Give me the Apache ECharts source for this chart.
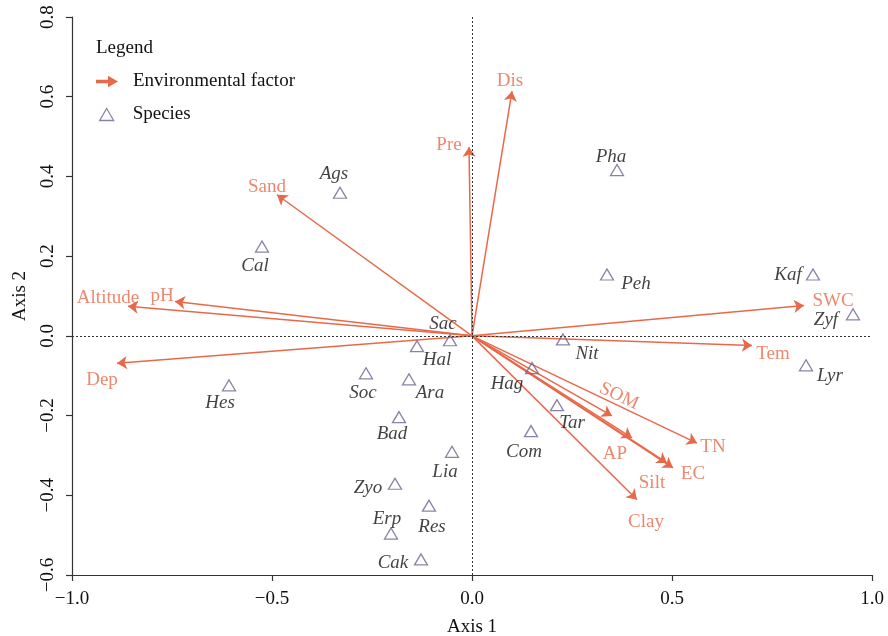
<!DOCTYPE html>
<html>
<head>
<meta charset="utf-8">
<script src="https://cdn.jsdelivr.net/npm/echarts@6/dist/echarts.min.js"></script>
<style>html,body{margin:0;padding:0;background:#fff}#c{width:888px;height:636px}</style>
</head>
<body>
<div id="c"></div>
<script>
// Environmental factors (arrow tips)
const envNames = ['Dis','Pre','Sand','pH','Altitude','Dep','SWC','Tem','SOM','AP','TN','EC','Silt','Clay'];
const envX = [0.10,-0.0075,-0.4875,-0.7425,-0.86,-0.8875,0.83,0.70,0.35,0.40,0.5625,0.5025,0.4875,0.4125];
const envY = [0.614,0.474,0.354,0.086,0.074,-0.069,0.076,-0.024,-0.201,-0.256,-0.269,-0.331,-0.319,-0.411];

// Species scores
const speciesNames = ['Ags','Pha','Cal','Peh','Kaf','Zyf','Lyr','Sac','Hal','Nit','Soc','Ara','Hag','Tar','Bad','Com','Lia','Zyo','Res','Erp','Cak','Hes'];
const speciesX = [-0.33,0.3625,-0.525,0.3375,0.8525,0.9525,0.835,-0.055,-0.1375,0.2275,-0.265,-0.1575,0.15,0.2125,-0.1825,0.1475,-0.05,-0.1925,-0.1075,-0.2025,-0.1275,-0.6075];
const speciesY = [0.359,0.416,0.224,0.154,0.154,0.054,-0.074,-0.011,-0.026,-0.009,-0.094,-0.109,-0.081,-0.174,-0.204,-0.239,-0.291,-0.371,-0.426,-0.496,-0.561,-0.124];

// Axis ticks
const xTicks = [-1.0,-0.5,0.0,0.5,1.0];
const yTicks = [-0.6,-0.4,-0.2,0.0,0.2,0.4,0.6,0.8];

// Label placement (pixel offsets from the point), kept separate from data
const envLabelLayout = {
  Dis:{o:[-2,-13]}, Pre:{o:[-20,-5]}, Sand:{o:[-10,-11]}, pH:{o:[-13,-9]},
  Altitude:{o:[-20,-11]}, Dep:{o:[-15,14]}, SWC:{o:[29,-8]}, Tem:{o:[21,6]},
  SOM:{o:[-2,-24], r:-25}, AP:{o:[-17,13]}, TN:{o:[16,1]}, EC:{o:[20,3]},
  Silt:{o:[-15,17]}, Clay:{o:[9,19]}
};
const spLabelLayout = {
  Ags:[-6,-22], Pha:[-6,-16], Cal:[-7,16], Peh:[29,7], Kaf:[-25,-2], Zyf:[-27,3],
  Lyr:[24,8], Sac:[-7,-19], Hal:[20,11], Nit:[24,12], Soc:[-3,17], Ara:[21,11],
  Hag:[-25,13], Tar:[15,15], Bad:[-7,14], Com:[-7,18], Lia:[-7,17], Zyo:[-27,1],
  Res:[3,18], Erp:[-4,-18], Cak:[-28,1], Hes:[-9,15]
};
const LABEL_DY = 3;

const ENV = '#E8694A';
const SP = '#6E6491';
const FONT = '"Liberation Serif", "DejaVu Serif", serif';
const fmt = v => (v < 0 ? '\u2212' : '') + Math.abs(v).toFixed(1);

const chart = echarts.init(document.getElementById('c'), null, {renderer: 'canvas'});

const arrowData = envNames.map((n, i) => ({name: n, coords: [[0, 0], [envX[i], envY[i]]]}));
const envLabelData = envNames.map((n, i) => ({
  name: n, value: [envX[i], envY[i]],
  label: {offset: [envLabelLayout[n].o[0], envLabelLayout[n].o[1] + LABEL_DY], rotate: envLabelLayout[n].r || 0}
}));
const spData = speciesNames.map((n, i) => ({
  name: n, value: [speciesX[i], speciesY[i]],
  label: {offset: [spLabelLayout[n][0], spLabelLayout[n][1] + LABEL_DY]}
}));

chart.setOption({
  animation: false,
  backgroundColor: '#fff',
  title: {
    text: 'Legend', left: 96, top: 39, padding: 0,
    textStyle: {fontFamily: FONT, fontSize: 19, fontWeight: 'normal', color: '#111'}
  },
  legend: [
    {
      left: 96, top: 72, padding: 0, orient: 'vertical',
      itemWidth: 19, itemHeight: 8,
      data: [{name: 'Environmental factor', icon: 'path://M0,3.3 L12,3.3 L12,0 L19,4 L12,8 L12,4.7 L0,4.7 Z', itemStyle: {color: ENV}}],
      textStyle: {fontFamily: FONT, fontSize: 19, color: '#111', padding: [0, 0, 0, 12]},
      selectedMode: false
    },
    {
      left: 99, top: 105, padding: 0, orient: 'vertical',
      itemWidth: 14, itemHeight: 12,
      data: [{name: 'Species', icon: 'triangle', itemStyle: {color: 'transparent', borderColor: SP, borderWidth: 1.3}}],
      textStyle: {fontFamily: FONT, fontSize: 19, color: '#111', padding: [0, 0, 0, 14]},
      selectedMode: false
    }
  ],
  grid: {left: 72, right: 16, top: 17, bottom: 61, containLabel: false, outerBoundsMode: 'none'},
  xAxis: {
    type: 'value', min: xTicks[0], max: xTicks[xTicks.length - 1], interval: 0.5,
    name: 'Axis 1', nameLocation: 'middle', nameGap: 43,
    nameTextStyle: {fontFamily: FONT, fontSize: 19, color: '#111'},
    axisLine: {show: true, onZero: false, lineStyle: {color: '#333', width: 1.2}},
    axisTick: {show: true, length: 6, lineStyle: {color: '#333', width: 1.2}},
    axisLabel: {fontFamily: FONT, fontSize: 19, color: '#111', margin: 15, formatter: fmt},
    splitLine: {show: false}
  },
  yAxis: {
    type: 'value', min: yTicks[0], max: yTicks[yTicks.length - 1], interval: 0.2,
    name: 'Axis 2', nameLocation: 'middle', nameGap: 42,
    nameTextStyle: {fontFamily: FONT, fontSize: 19, color: '#111'},
    axisLine: {show: true, onZero: false, lineStyle: {color: '#333', width: 1.2}},
    axisTick: {show: true, length: 6, lineStyle: {color: '#333', width: 1.2}},
    axisLabel: {fontFamily: FONT, fontSize: 19, color: '#111', margin: 14, rotate: 90, formatter: fmt},
    splitLine: {show: false}
  },
  series: [
    {
      name: 'Species', type: 'scatter', z: 3,
      symbol: 'triangle', symbolSize: [13, 11],
      itemStyle: {color: 'transparent', borderColor: SP, borderWidth: 1.3},
      label: {show: true, position: 'inside', formatter: '{b}', fontFamily: FONT, fontStyle: 'italic', fontSize: 19, color: '#111'},
      data: spData,
      markLine: {
        silent: true, symbol: 'none', animation: false,
        label: {show: false},
        lineStyle: {type: [2, 2], color: '#333', width: 1},
        data: [{xAxis: 0}, {yAxis: 0}]
      }
    },
    {
      name: 'Environmental factor', type: 'lines', coordinateSystem: 'cartesian2d', z: 2,
      symbol: ['none', 'arrow'], symbolSize: 10,
      lineStyle: {color: ENV, width: 1.5, opacity: 1},
      data: arrowData
    },
    {
      name: 'envLabels', type: 'scatter', z: 4, silent: true,
      symbol: 'circle', symbolSize: 1,
      itemStyle: {color: 'transparent'},
      label: {show: true, position: 'inside', formatter: '{b}', fontFamily: FONT, fontSize: 19, color: ENV},
      data: envLabelData
    }
  ]
});
</script>
</body>
</html>
